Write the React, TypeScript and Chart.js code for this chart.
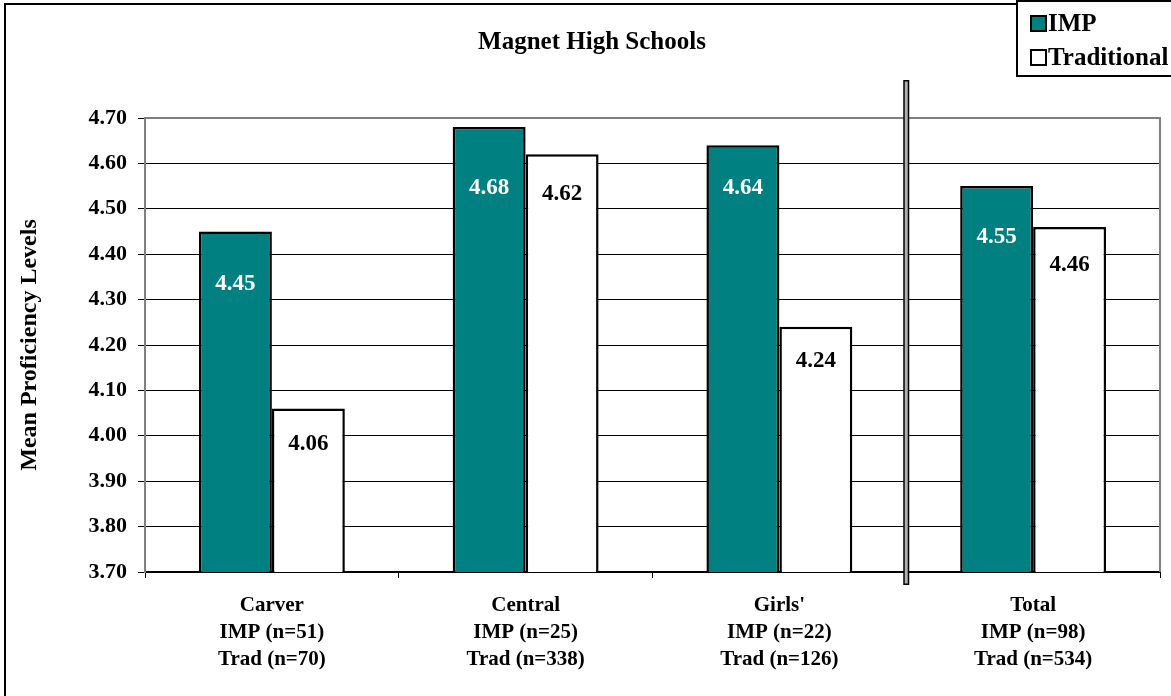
import React, { useEffect, useRef } from "react";
import { Chart, registerables } from "chart.js";

Chart.register(...registerables);

const CATEGORIES: string[][] = [
  ["Carver", "IMP (n=51)", "Trad (n=70)"],
  ["Central", "IMP (n=25)", "Trad (n=338)"],
  ["Girls'", "IMP (n=22)", "Trad (n=126)"],
  ["Total", "IMP (n=98)", "Trad (n=534)"],
];
const SERIES_NAMES = ["IMP", "Traditional"];
const IMP_VALUES = [4.45, 4.68, 4.64, 4.55];
const TRAD_VALUES = [4.06, 4.62, 4.24, 4.46];
const Y_MIN = 3.7;
const Y_MAX = 4.7;
const Y_STEP = 0.1;
const TITLE = "Magnet High Schools";
const Y_TITLE = "Mean Proficiency Levels";

const FONT = "'Liberation Serif', 'Times New Roman', serif";
const TEAL = "#008080";
// label distance below bar top (px), per bar
const LABEL_DROP_IMP = [53, 61, 43, 51];
const LABEL_DROP_TRAD = [36, 40, 34, 38];

const decorPlugin = {
  id: "decor",
  beforeDraw(chart: any) {
    const ctx = chart.ctx;
    ctx.save();
    ctx.fillStyle = "#fff";
    ctx.fillRect(0, 0, chart.width, chart.height);
    ctx.restore();
  },
  beforeDatasetsDraw(chart: any) {
    const { ctx, chartArea } = chart;
    ctx.save();
    ctx.strokeStyle = "#808080";
    ctx.lineWidth = 2;
    ctx.beginPath();
    ctx.moveTo(chartArea.left, chartArea.bottom);
    ctx.lineTo(chartArea.left, chartArea.top);
    ctx.lineTo(chartArea.right, chartArea.top);
    ctx.lineTo(chartArea.right, chartArea.bottom);
    ctx.stroke();
    ctx.restore();
  },
  afterDatasetsDraw(chart: any) {
    const { ctx, chartArea } = chart;
    // value labels
    ctx.save();
    ctx.font = `bold 23px ${FONT}`;
    ctx.textAlign = "center";
    ctx.textBaseline = "middle";
    chart.data.datasets.forEach((ds: any, di: number) => {
      const meta = chart.getDatasetMeta(di);
      const drops = di === 0 ? LABEL_DROP_IMP : LABEL_DROP_TRAD;
      meta.data.forEach((el: any, i: number) => {
        ctx.fillStyle = di === 0 ? "#fff" : "#000";
        ctx.fillText(ds.data[i].toFixed(2), el.x, el.y + drops[i]);
      });
    });
    ctx.restore();

    // separator double line between Girls' and Total
    const xs = chart.scales.x;
    const sx = (xs.getPixelForValue(2) + xs.getPixelForValue(3)) / 2;
    const top = chartArea.top - 38;
    const bottom = chartArea.bottom + 13;
    ctx.save();
    ctx.fillStyle = "#000";
    ctx.fillRect(sx - 3, top, 6, bottom - top);
    ctx.fillStyle = "#b0b0b0";
    ctx.fillRect(sx - 1.5, top + 1.5, 3, bottom - top - 3);
    ctx.restore();
  },
  afterDraw(chart: any) {
    const ctx = chart.ctx;
    ctx.save();
    // outer frame (left and top visible)
    ctx.strokeStyle = "#000";
    ctx.lineWidth = 2;
    ctx.beginPath();
    ctx.moveTo(5, chart.height + 5);
    ctx.lineTo(5, 4);
    ctx.lineTo(chart.width + 5, 4);
    ctx.stroke();

    // legend box
    const lx = 1017;
    ctx.fillStyle = "#fff";
    ctx.fillRect(lx, 0, chart.width - lx + 5, 76);
    ctx.beginPath();
    ctx.moveTo(chart.width + 5, 1);
    ctx.lineTo(lx, 1);
    ctx.lineTo(lx, 76);
    ctx.lineTo(chart.width + 5, 76);
    ctx.stroke();

    const items = [
      { label: SERIES_NAMES[0], fill: TEAL, y: 16 },
      { label: SERIES_NAMES[1], fill: "#fff", y: 50 },
    ];
    ctx.font = `bold 25px ${FONT}`;
    ctx.textAlign = "left";
    ctx.textBaseline = "middle";
    items.forEach((it) => {
      ctx.fillStyle = it.fill;
      ctx.fillRect(1031, it.y, 15, 15);
      ctx.lineWidth = 2;
      ctx.strokeStyle = "#000";
      ctx.strokeRect(1031, it.y, 15, 15);
      ctx.fillStyle = "#000";
      ctx.fillText(it.label, 1048, it.y + 8.5);
    });
    ctx.restore();
  },
};

export default function App() {
  const ref = useRef<HTMLCanvasElement | null>(null);
  useEffect(() => {
    if (!ref.current) return;
    const chart = new Chart(ref.current, {
      type: "bar",
      data: {
        labels: CATEGORIES,
        datasets: [
          {
            label: SERIES_NAMES[0],
            data: IMP_VALUES,
            backgroundColor: TEAL,
            borderColor: "#000",
            borderWidth: 2.5,
          },
          {
            label: SERIES_NAMES[1],
            data: TRAD_VALUES,
            backgroundColor: "#fff",
            borderColor: "#000",
            borderWidth: 2.5,
          },
        ],
      },
      options: {
        responsive: false,
        animation: false,
        layout: { padding: { left: 24, right: 11, top: 0, bottom: 0 } },
        datasets: {
          bar: { categoryPercentage: 0.575, barPercentage: 1 },
        },
        plugins: {
          legend: { display: false },
          tooltip: { enabled: false },
          title: {
            display: true,
            text: TITLE,
            color: "#000",
            font: { family: FONT, size: 25, weight: "bold", lineHeight: 1.2 },
            padding: { top: 28, bottom: 60 },
          },
        },
        scales: {
          x: {
            grid: {
              display: true,
              drawOnChartArea: false,
              offset: true,
              tickLength: 6,
              tickColor: "#000",
              tickWidth: 1,
            },
            border: { display: true, color: "#000", width: 2 },
            ticks: {
              color: "#000",
              padding: 14,
              maxRotation: 0,
              autoSkip: false,
              font: { family: FONT, size: 21, weight: "bold", lineHeight: 27 / 21 },
            },
            afterFit: (s: any) => {
              s.height = 124;
            },
          },
          y: {
            min: Y_MIN,
            max: Y_MAX,
            ticks: {
              stepSize: Y_STEP,
              color: "#000",
              padding: 11,
              font: { family: FONT, size: 22, weight: "bold" },
              callback: (v: any) => Number(v).toFixed(2),
            },
            grid: {
              color: "#000",
              lineWidth: 1,
              tickLength: 7,
              tickColor: "#000",
            },
            border: { display: true, color: "#808080", width: 2 },
            title: {
              display: true,
              text: Y_TITLE,
              color: "#000",
              font: { family: FONT, size: 24, weight: "bold", lineHeight: 1.2 },
              padding: { top: -9, bottom: 0 },
            },
            afterFit: (s: any) => {
              s.width = 121;
            },
          },
        },
      },
      plugins: [decorPlugin],
    });
    return () => chart.destroy();
  }, []);

  return (
    <div style={{ position: "fixed", left: 0, top: 0, width: 1171, height: 696, background: "#fff" }}>
      <canvas ref={ref} width={1171} height={696} style={{ display: "block" }} />
    </div>
  );
}
